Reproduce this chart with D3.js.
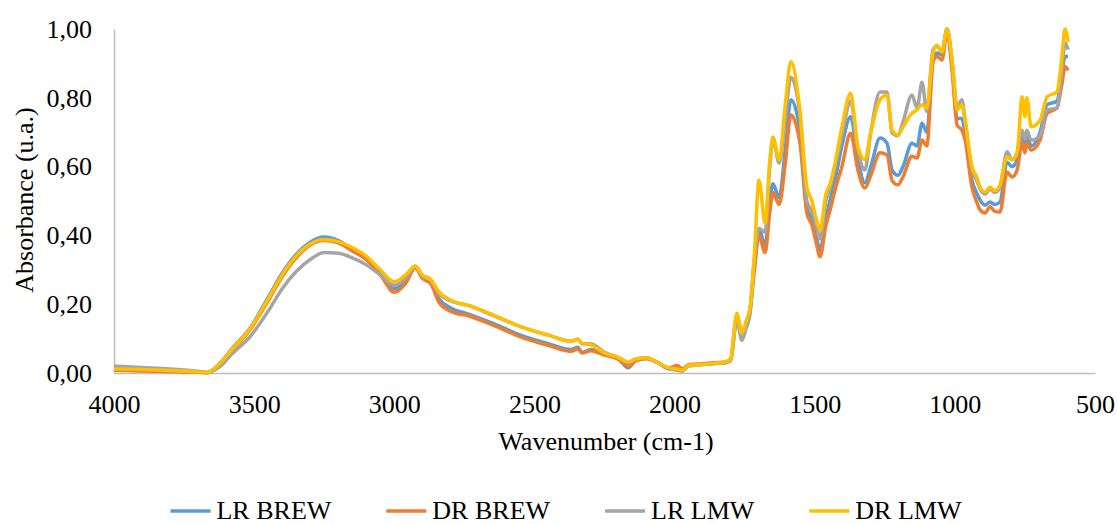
<!DOCTYPE html>
<html>
<head>
<meta charset="utf-8">
<script src="https://cdn.jsdelivr.net/npm/d3@7"></script>
</head>
<body style="margin:0">
<svg id="chart" width="1118" height="524"></svg>
<script>
const FONT = 'Liberation Serif'

// wavenumber (cm-1)
const wavenumber = [4000, 3900, 3800, 3700, 3668, 3620, 3580, 3515, 3450, 3400, 3350, 3300, 3250, 3200, 3150, 3100, 3050, 3000, 2960, 2925, 2900, 2870, 2840, 2800, 2730, 2650, 2550, 2450, 2370, 2345, 2330, 2300, 2250, 2200, 2165, 2140, 2100, 2060, 2020, 1990, 1973, 1950, 1900, 1860, 1820, 1800, 1778, 1760, 1745, 1731, 1715, 1699, 1677, 1660, 1649, 1627, 1605, 1585, 1553, 1528, 1510, 1495, 1481, 1460, 1445, 1425, 1403, 1372, 1346, 1321, 1300, 1267, 1242, 1224, 1203, 1185, 1153, 1135, 1117, 1100, 1078, 1064, 1046, 1028, 1010, 992, 975, 964, 939, 922, 910, 892, 875, 857, 839, 814, 796, 778, 760, 750, 743, 728, 696, 671, 636, 618, 607, 596]

const lrBrew = [0.012, 0.010, 0.007, 0.003, 0.001, 0.030, 0.070, 0.130, 0.220, 0.290, 0.345, 0.380, 0.395, 0.385, 0.360, 0.330, 0.290, 0.245, 0.270, 0.310, 0.280, 0.265, 0.215, 0.190, 0.170, 0.145, 0.110, 0.085, 0.068, 0.075, 0.060, 0.068, 0.055, 0.040, 0.015, 0.035, 0.042, 0.030, 0.012, 0.020, 0.008, 0.022, 0.025, 0.028, 0.030, 0.040, 0.160, 0.115, 0.140, 0.180, 0.330, 0.420, 0.370, 0.500, 0.550, 0.510, 0.650, 0.794, 0.706, 0.480, 0.450, 0.400, 0.357, 0.450, 0.503, 0.570, 0.660, 0.745, 0.620, 0.553, 0.600, 0.683, 0.668, 0.590, 0.575, 0.600, 0.668, 0.660, 0.726, 0.700, 0.910, 0.930, 0.925, 1.000, 0.900, 0.740, 0.740, 0.700, 0.560, 0.523, 0.503, 0.488, 0.497, 0.490, 0.497, 0.613, 0.600, 0.620, 0.690, 0.660, 0.690, 0.660, 0.700, 0.780, 0.790, 0.870, 0.920, 0.920]
const drBrew = [0.008, 0.006, 0.004, 0.002, 0.001, 0.030, 0.065, 0.125, 0.210, 0.280, 0.335, 0.372, 0.385, 0.378, 0.355, 0.330, 0.285, 0.235, 0.260, 0.305, 0.275, 0.260, 0.205, 0.180, 0.165, 0.140, 0.105, 0.080, 0.063, 0.070, 0.058, 0.065, 0.052, 0.040, 0.020, 0.035, 0.042, 0.030, 0.015, 0.022, 0.012, 0.024, 0.027, 0.030, 0.032, 0.040, 0.165, 0.120, 0.145, 0.180, 0.300, 0.400, 0.350, 0.470, 0.525, 0.490, 0.610, 0.750, 0.670, 0.465, 0.430, 0.380, 0.338, 0.430, 0.474, 0.540, 0.600, 0.697, 0.590, 0.538, 0.575, 0.640, 0.634, 0.560, 0.547, 0.570, 0.630, 0.625, 0.677, 0.660, 0.905, 0.920, 0.910, 0.990, 0.880, 0.720, 0.706, 0.680, 0.540, 0.497, 0.474, 0.465, 0.483, 0.470, 0.468, 0.584, 0.570, 0.590, 0.670, 0.640, 0.670, 0.648, 0.677, 0.755, 0.770, 0.840, 0.890, 0.880]
const lrLmw = [0.020, 0.016, 0.012, 0.005, 0.002, 0.020, 0.055, 0.105, 0.180, 0.245, 0.295, 0.330, 0.350, 0.348, 0.335, 0.315, 0.285, 0.255, 0.275, 0.310, 0.280, 0.270, 0.230, 0.210, 0.195, 0.168, 0.135, 0.110, 0.093, 0.098, 0.085, 0.085, 0.060, 0.045, 0.030, 0.040, 0.044, 0.030, 0.012, 0.008, 0.005, 0.020, 0.025, 0.027, 0.030, 0.035, 0.155, 0.095, 0.130, 0.170, 0.330, 0.420, 0.410, 0.600, 0.680, 0.610, 0.740, 0.860, 0.750, 0.500, 0.470, 0.430, 0.390, 0.500, 0.540, 0.610, 0.690, 0.790, 0.650, 0.590, 0.700, 0.817, 0.817, 0.697, 0.690, 0.730, 0.808, 0.770, 0.845, 0.760, 0.940, 0.950, 0.935, 1.000, 0.910, 0.773, 0.794, 0.740, 0.590, 0.560, 0.535, 0.520, 0.535, 0.525, 0.540, 0.643, 0.620, 0.640, 0.706, 0.680, 0.706, 0.677, 0.690, 0.765, 0.770, 0.880, 0.960, 0.940]
const drLmw = [0.012, 0.010, 0.007, 0.003, 0.001, 0.030, 0.068, 0.128, 0.215, 0.285, 0.340, 0.375, 0.388, 0.382, 0.365, 0.340, 0.300, 0.265, 0.285, 0.310, 0.285, 0.272, 0.235, 0.212, 0.195, 0.170, 0.135, 0.110, 0.092, 0.098, 0.085, 0.082, 0.058, 0.045, 0.032, 0.040, 0.044, 0.030, 0.015, 0.012, 0.008, 0.022, 0.025, 0.028, 0.032, 0.040, 0.174, 0.116, 0.150, 0.190, 0.350, 0.560, 0.435, 0.620, 0.686, 0.620, 0.780, 0.905, 0.765, 0.540, 0.500, 0.450, 0.415, 0.520, 0.550, 0.620, 0.715, 0.813, 0.658, 0.620, 0.700, 0.794, 0.808, 0.706, 0.692, 0.716, 0.755, 0.765, 0.780, 0.770, 0.930, 0.953, 0.933, 1.000, 0.910, 0.765, 0.780, 0.735, 0.600, 0.570, 0.540, 0.526, 0.540, 0.530, 0.547, 0.628, 0.620, 0.640, 0.803, 0.745, 0.800, 0.716, 0.735, 0.803, 0.817, 0.920, 1.000, 0.962]

const seriesNames = ['LR BREW', 'DR BREW', 'LR LMW', 'DR LMW']
const seriesValues = [lrBrew, drBrew, lrLmw, drLmw]
const seriesColors = ['#5B9BD5', '#ED7D31', '#A5A5A5', '#FFC000']

const xTicks = [4000, 3500, 3000, 2500, 2000, 1500, 1000, 500]
const yTicks = [0, 0.2, 0.4, 0.6, 0.8, 1.0]

const fontSize = 26
const svg = d3.select('#chart')
    .attr('font-family', FONT)
    .attr('font-size', fontSize)

const x = d3.scaleLinear().domain([4000, 500]).range([114, 1095])
const y = d3.scaleLinear().domain([0, 1]).range([373, 29])

const fmt = d => d3.format('.2f')(d).replace('.', ',')

// axis lines only, no tick marks
const xAxis = svg.append('g').attr('transform', `translate(0, ${y(0)})`)
    .call(d3.axisBottom(x).tickValues(xTicks).tickSize(0).tickPadding(22).tickFormat(d => d))
const yAxis = svg.append('g').attr('transform', `translate(${x(4000)}, 0)`)
    .call(d3.axisLeft(y).tickValues(yTicks).tickSize(0).tickPadding(22).tickFormat(fmt))

;[xAxis, yAxis].forEach(a => {
    a.attr('font-family', FONT).attr('font-size', fontSize)
    a.select('.domain').attr('stroke', '#BFBFBF').attr('stroke-width', 1.5)
    a.selectAll('text').attr('fill', '#000')
})
yAxis.selectAll('text').attr('dy', '0.32em')

// series
const line = d3.line().x((d, i) => x(wavenumber[i])).y(d => y(d)).curve(d3.curveMonotoneX)

seriesValues.forEach((vals, k) => {
    svg.append('path')
        .datum(vals)
        .attr('d', line)
        .attr('fill', 'none')
        .attr('stroke', seriesColors[k])
        .attr('stroke-width', 3.5)
        .attr('stroke-linejoin', 'round')
})

// titles
svg.append('text')
    .attr('x', 606).attr('y', 450)
    .attr('text-anchor', 'middle')
    .text('Wavenumber (cm-1)')

svg.append('text')
    .attr('transform', 'translate(33, 200) rotate(-90)')
    .attr('text-anchor', 'middle')
    .text('Absorbance (u.a.)')

// legend
const legend = svg.append('g')
let lx = 0
seriesNames.forEach((name, k) => {
    const item = legend.append('g').attr('transform', `translate(${lx}, 0)`)
    item.append('line')
        .attr('x1', 0).attr('x2', 40).attr('y1', 0).attr('y2', 0)
        .attr('stroke', seriesColors[k]).attr('stroke-width', 3.5)
    const t = item.append('text')
        .attr('x', 46).attr('y', 8)
        .text(name)
    lx += 46 + t.node().getComputedTextLength() + 55
})
const legendWidth = lx - 55
legend.attr('transform', `translate(${566 - legendWidth / 2}, 511)`)
</script>
</body>
</html>
